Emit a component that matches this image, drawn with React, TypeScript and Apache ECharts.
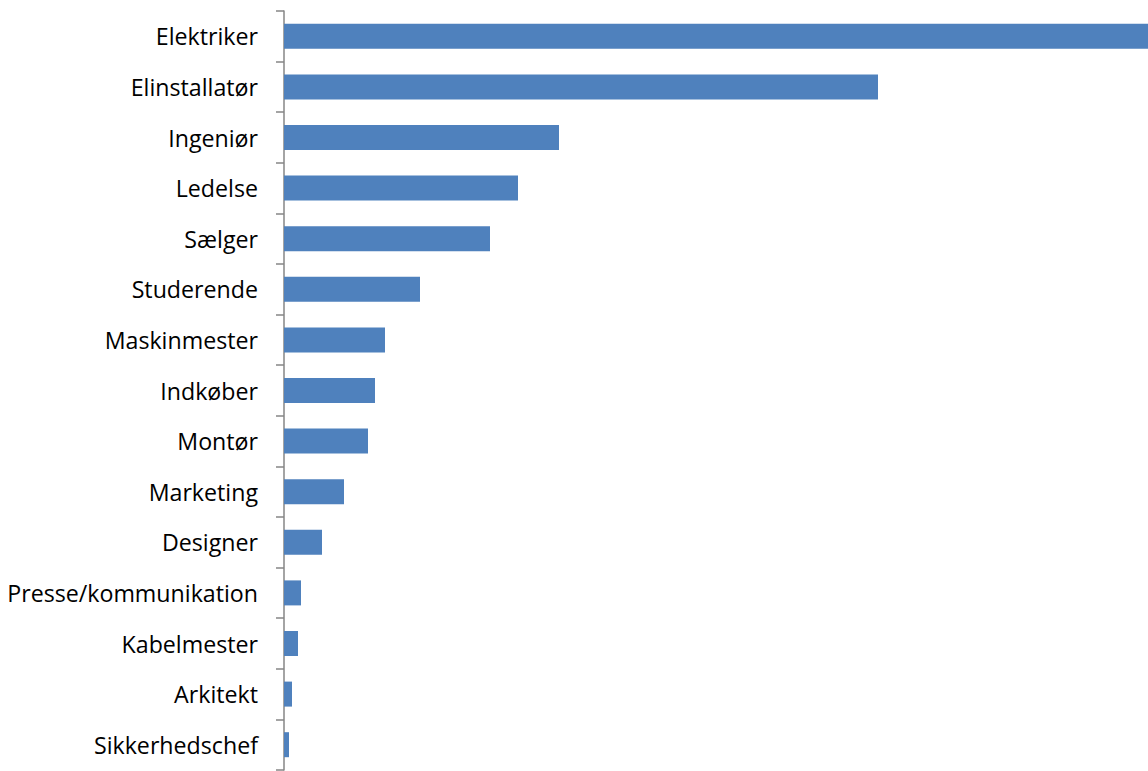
import React, { useEffect, useRef } from "react";
import * as echarts from "echarts";

const categories = [
  "Elektriker",
  "Elinstallatør",
  "Ingeniør",
  "Ledelse",
  "Sælger",
  "Studerende",
  "Maskinmester",
  "Indkøber",
  "Montør",
  "Marketing",
  "Designer",
  "Presse/kommunikation",
  "Kabelmester",
  "Arkitekt",
  "Sikkerhedschef",
];

const values = [864, 594, 275, 234, 206, 136, 101, 91, 84, 60, 38, 17, 14, 8, 5];

export default function App() {
  const ref = useRef<HTMLDivElement>(null);
  useEffect(() => {
    if (!ref.current) return;
    const chart = echarts.init(ref.current, undefined, { renderer: "svg" });
    chart.setOption({
      animation: false,
      backgroundColor: "#ffffff",
      grid: { left: 284, right: 0, top: 11, bottom: 1, containLabel: false },
      xAxis: {
        type: "value",
        show: false,
        min: 0,
        max: 864,
      },
      yAxis: {
        type: "category",
        inverse: true,
        data: categories,
        axisLine: { show: true, lineStyle: { color: "#868686", width: 1.5 } },
        axisTick: { show: true, length: 8, lineStyle: { color: "#868686", width: 1.5 } },
        axisLabel: {
          margin: 26,
          color: "#000000",
          fontSize: 23.2,
          fontFamily: "Open Sans",
        },
        splitLine: { show: false },
      },
      series: [
        {
          type: "bar",
          data: values,
          barWidth: 25,
          itemStyle: { color: "#4F81BD" },
        },
      ],
    });
    return () => chart.dispose();
  }, []);
  return (
    <div
      ref={ref}
      style={{ position: "absolute", left: 0, top: 0, width: 1148, height: 771 }}
    />
  );
}
